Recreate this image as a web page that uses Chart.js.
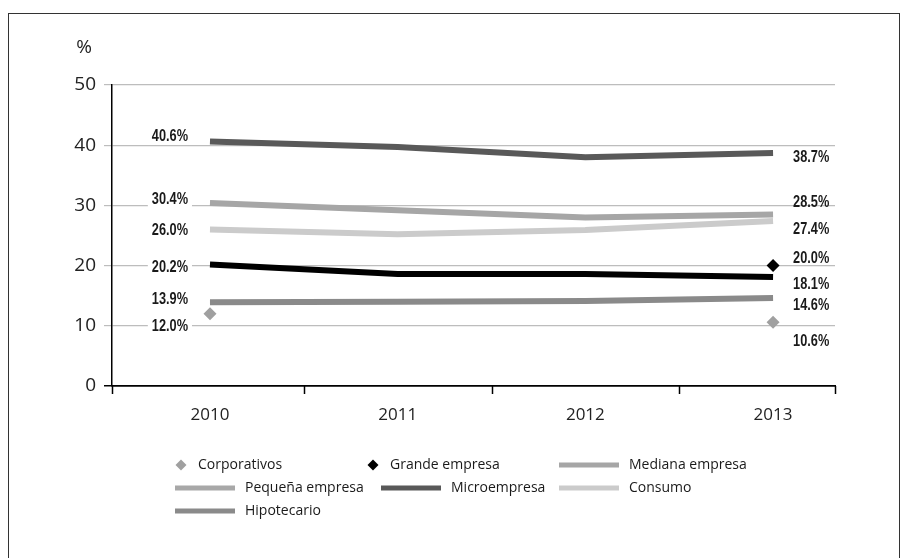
<!DOCTYPE html>
<html>
<head>
<meta charset="utf-8">
<script src="https://cdn.jsdelivr.net/npm/chart.js@4.4.0/dist/chart.umd.min.js"></script>
<style>
  html, body { margin: 0; padding: 0; background: #fff; }
  #wrap { width: 908px; height: 558px; position: relative; }
</style>
</head>
<body>
<div id="wrap"><canvas id="c" width="908" height="558"></canvas></div>
<script>
// Ratios by credit segment, in %
const years = ['2010', '2011', '2012', '2013'];
const corporativos   = [12.0, null, null, 10.6];
const grandeEmpresa  = [null, null, null, 20.0];
const medianaEmpresa = [30.4, 29.2, 28.0, 28.5];
const pequenaEmpresa = [null, null, null, null];
const microempresa   = [40.6, 39.7, 38.0, 38.7];
const consumo        = [26.0, 25.2, 25.9, 27.4];
const hipotecario    = [13.9, 14.0, 14.1, 14.6];
const total          = [20.2, 18.6, 18.6, 18.1];
const yTicks = [0, 10, 20, 30, 40, 50];

const toPoints = arr => arr.map((v, i) => ({ x: i, y: v }));

// Horizontal extent of the category axis (in category units)
const X_MIN = -0.522, X_MAX = 3.33;

// Vertical nudges (px) of the first / last value labels relative to their point
const labelNudge = {
  'Corporativos':    [12, 18],
  'Grande empresa':  [null, -8],
  'Mediana empresa': [-5, -13],
  'Microempresa':    [-6, 3],
  'Consumo':         [0, 7],
  'Hipotecario':     [-4, 6],
  'Total':           [2, 6]
};

// Legend slots: [x, y] of the swatch start
const legendSlots = {
  'Corporativos':    [181, 465],
  'Grande empresa':  [373, 465],
  'Mediana empresa': [559, 465],
  'Pequeña empresa': [175, 488],
  'Microempresa':    [381, 488],
  'Consumo':         [559, 488],
  'Hipotecario':     [175, 511]
};

const lineSeries = (label, data, color, order) => ({
  label, data: toPoints(data), borderColor: color, backgroundColor: color,
  borderWidth: 6, pointRadius: 0, tension: 0, order, borderCapStyle: 'butt'
});
const markerSeries = (label, data, color, order) => ({
  label, data: toPoints(data), borderColor: color, backgroundColor: color,
  showLine: false, pointStyle: 'rectRot', pointRadius: 6.5, borderWidth: 0, order
});

const datasets = [
  markerSeries('Corporativos', corporativos, '#a0a0a0', 0),
  markerSeries('Grande empresa', grandeEmpresa, '#000000', 0),
  lineSeries('Mediana empresa', medianaEmpresa, '#a6a6a6', 3),
  lineSeries('Pequeña empresa', pequenaEmpresa, '#a8a8a8', 3),
  lineSeries('Microempresa', microempresa, '#595959', 2),
  lineSeries('Consumo', consumo, '#cbcbcb', 4),
  lineSeries('Hipotecario', hipotecario, '#8a8a8a', 2),
  lineSeries('Total', total, '#000000', 1)
];

const LABEL_FONT = 'bold 17px "Liberation Sans", Arimo, sans-serif';
const LABEL_SQUEEZE = 0.75;   // horizontal condensing of the value labels
const BODY_FONT = '"Open Sans", "Noto Sans", sans-serif';

const valueLabels = {
  id: 'valueLabels',
  afterDatasetsDraw(chart) {
    const { ctx, scales: { x, y } } = chart;
    ctx.save();
    ctx.font = LABEL_FONT;
    ctx.textBaseline = 'middle';
    chart.data.datasets.forEach(ds => {
      const nudge = labelNudge[ds.label];
      if (!nudge) return;
      [0, ds.data.length - 1].forEach((idx, k) => {
        const v = ds.data[idx].y;
        if (v == null || nudge[k] == null) return;
        const text = v.toFixed(1) + '%';
        const px = x.getPixelForValue(idx);
        const py = y.getPixelForValue(v) + nudge[k];
        const w = ctx.measureText(text).width * LABEL_SQUEEZE;
        const left = k === 0 ? px - 22 - w : px + 20;
        if (k === 0) {
          ctx.fillStyle = '#fff';
          ctx.fillRect(left - 4, py - 9, w + 8, 18);
        }
        ctx.save();
        ctx.translate(left, py + 1);
        ctx.scale(LABEL_SQUEEZE, 1);
        ctx.fillStyle = '#1a1a1a';
        ctx.textAlign = 'left';
        ctx.fillText(text, 0, 0);
        ctx.restore();
      });
    });
    ctx.restore();
  }
};

const axisExtras = {
  id: 'axisExtras',
  afterDraw(chart) {
    const { ctx, scales: { x, y } } = chart;
    ctx.save();
    // category separator tick marks below the axis
    ctx.strokeStyle = '#000';
    ctx.lineWidth = 1.5;
    const base = y.getPixelForValue(0);
    [X_MIN, 0.5, 1.5, 2.5, X_MAX].forEach(v => {
      const px = Math.round(x.getPixelForValue(v)) + 0.5;
      ctx.beginPath();
      ctx.moveTo(px, base);
      ctx.lineTo(px, base + 8);
      ctx.stroke();
    });
    // unit label above the value axis
    ctx.fillStyle = '#222';
    ctx.font = '19px ' + BODY_FONT;
    ctx.textAlign = 'center';
    ctx.textBaseline = 'middle';
    ctx.fillText('%', 84, 48);
    // frame
    ctx.strokeStyle = '#333';
    ctx.lineWidth = 1;
    ctx.strokeRect(8.5, 13.5, 891, 600);
    ctx.restore();
  }
};

const slotLegend = {
  id: 'slotLegend',
  afterDraw(chart) {
    const { ctx } = chart;
    ctx.save();
    ctx.font = '14px ' + BODY_FONT;
    ctx.textBaseline = 'middle';
    ctx.textAlign = 'left';
    chart.data.datasets.forEach(ds => {
      const slot = legendSlots[ds.label];
      if (!slot) return;
      const [sx, sy] = slot;
      ctx.fillStyle = ds.backgroundColor;
      if (ds.showLine === false) {
        const r = 5.5;
        ctx.beginPath();
        ctx.moveTo(sx, sy - r); ctx.lineTo(sx + r, sy);
        ctx.lineTo(sx, sy + r); ctx.lineTo(sx - r, sy);
        ctx.closePath(); ctx.fill();
        ctx.fillStyle = '#1a1a1a';
        ctx.fillText(ds.label, sx + 17, sy);
      } else {
        ctx.fillRect(sx, sy - 2.5, 60, 5);
        ctx.fillStyle = '#1a1a1a';
        ctx.fillText(ds.label, sx + 70, sy);
      }
    });
    ctx.restore();
  }
};

new Chart(document.getElementById('c'), {
  type: 'line',
  data: { datasets },
  options: {
    responsive: false,
    animation: false,
    layout: { padding: { left: 0, right: 73, top: 85, bottom: 0 } },
    plugins: { legend: { display: false }, tooltip: { enabled: false } },
    scales: {
      x: {
        type: 'linear', min: X_MIN, max: X_MAX,
        afterBuildTicks: s => { s.ticks = years.map((_, i) => ({ value: i })); },
        ticks: {
          callback: v => years[v], autoSkip: false, maxRotation: 0,
          font: { family: BODY_FONT, size: 17 }, color: '#222', padding: 11
        },
        grid: { display: false },
        border: { display: true, color: '#000', width: 1.5 },
        afterFit: s => { s.height = 172; }
      },
      y: {
        min: 0, max: 50,
        afterBuildTicks: s => { s.ticks = yTicks.map(v => ({ value: v })); },
        ticks: { font: { family: BODY_FONT, size: 19 }, color: '#222', padding: 8 },
        grid: {
          color: c => (c.tick && c.tick.value === 0) ? '#000' : '#bdbdbd',
          lineWidth: c => (c.tick && c.tick.value === 0) ? 1.5 : 1.2,
          tickLength: 8
        },
        border: { display: true, color: '#000', width: 1.5 },
        afterFit: s => { s.width = 112; }
      }
    }
  },
  plugins: [valueLabels, axisExtras, slotLegend]
});
</script>
</body>
</html>
